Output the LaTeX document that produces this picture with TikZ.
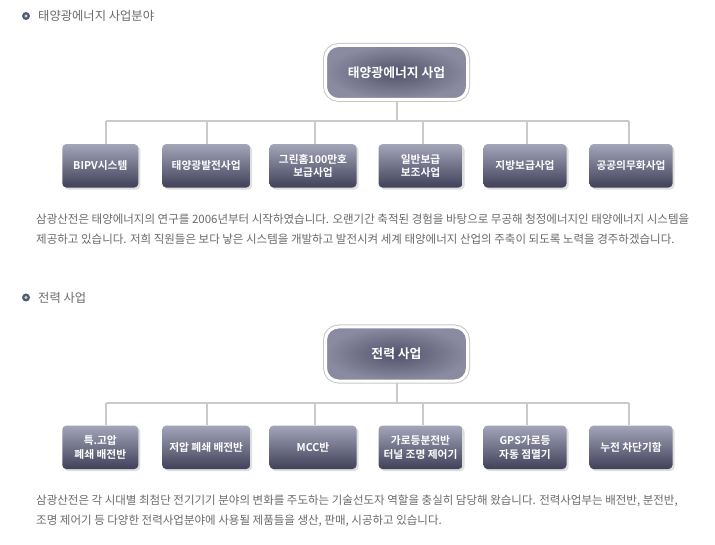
\documentclass[tikz,border=0pt]{standalone}
\usepackage{fontspec}
\setmainfont{Noto Sans CJK KR}[BoldFont={Noto Sans CJK KR Bold}]
\usetikzlibrary{positioning, shadows}

\definecolor{boxtop}{HTML}{A3A5B9}
\definecolor{boxbot}{HTML}{404159}
\definecolor{headin}{HTML}{52536B}
\definecolor{headout}{HTML}{8A8BA0}
\definecolor{linegray}{HTML}{CACACA}
\definecolor{textgray}{HTML}{6A6A6A}
\definecolor{bulletblue}{HTML}{4D5E74}

\begin{document}
\begin{tikzpicture}[x=1pt, y=-1pt,
    headbox/.style={rounded corners=13pt, draw=white, line width=3pt,
        preaction={draw=black!22, line width=5pt},
        inner color=headin, outer color=headout,
        minimum width=142, minimum height=54, inner sep=0,
        text=white, font=\bfseries\fontsize{12.8}{14}\selectfont},
    subbox/.style={rounded corners=4pt, top color=boxtop, bottom color=boxbot,
        drop shadow={shadow xshift=2pt, shadow yshift=-2pt, opacity=0.25},
        minimum height=43.5, inner sep=0, align=center,
        text=white, font=\bfseries\fontsize{10.7}{13.5}\selectfont},
    link/.style={draw=linegray, line width=2pt},
    title/.style={text=textgray, font=\fontsize{12.3}{14}\selectfont, inner sep=0},
    para/.style={text=textgray, font=\fontsize{11.5}{20}\selectfont,
        align=left, inner sep=0}]
    \useasboundingbox[fill=white] (0,0) rectangle (715,545);

    % Section 1: solar
    \fill[bulletblue] (26,16) circle (4);
    \fill[black!15] (26,16) circle (1.6);
    \node[title, anchor=west] (suntitle) at (38,16) {태양광에너지 사업분야};

    \node[headbox] (sun) at (396.5,72.5) {태양광에너지 사업};
    \coordinate (sunbar) at (0,121);
    \foreach \i/\cx/\w/\dx/\txt in {%
        1/100.3/76/5.7/{BIPV시스템},
        2/206.2/88/0.8/{태양광발전사업},
        3/313/87/2/{그린홈100만호\\보급사업},
        4/420.5/84/2.5/{일반보급\\보조사업},
        5/525/83/2/{지방보급사업},
        6/631/83/-2/{공공의무화사업}}{%
        \node[subbox, minimum width=\w] (sun\i) at (\cx,165.8) {\txt};
        \draw[link] ([xshift=\dx]sun\i.north) -- ([xshift=\dx]sun\i.north |- sunbar);
    }
    \draw[link] (sun.south) -- (sun.south |- sunbar);
    \draw[link] ([xshift=5.7]sun1.north |- sunbar) -- ([xshift=-2]sun6.north |- sunbar);

    \node[para, anchor=north west] (sunpara) at (36,214)
        {삼광산전은 태양에너지의 연구를 2006년부터 시작하였습니다. 오랜기간 축적된 경험을 바탕으로 무공해 청정에너지인 태양에너지 시스템을\\
         제공하고 있습니다. 저희 직원들은 보다 낳은 시스템을 개발하고 발전시켜 세계 태양에너지 산업의 주축이 되도록 노력을 경주하겠습니다.};

    % Section 2: power
    \fill[bulletblue] (26,297.5) circle (4);
    \fill[black!15] (26,297.5) circle (1.6);
    \node[title, anchor=west] (powtitle) at (38,297.5) {전력 사업};

    \node[headbox] (pow) at (396.5,354) {전력 사업};
    \coordinate (powbar) at (0,402.5);
    \foreach \i/\cx/\w/\dx/\txt in {%
        1/100.3/76/5.7/{특.고압\\폐쇄 배전반},
        2/206.2/88/0.8/{저압 폐쇄 배전반},
        3/313/87/2/{MCC반},
        4/420.5/84/2.5/{가로등분전반\\터널 조명 제어기},
        5/525/83/2/{GPS가로등\\자동 점멸기},
        6/631/83/-2/{누전 차단기함}}{%
        \node[subbox, minimum width=\w] (pow\i) at (\cx,447.3) {\txt};
        \draw[link] ([xshift=\dx]pow\i.north) -- ([xshift=\dx]pow\i.north |- powbar);
    }
    \draw[link] (pow.south) -- (pow.south |- powbar);
    \draw[link] ([xshift=5.7]pow1.north |- powbar) -- ([xshift=-2]pow6.north |- powbar);

    \node[para, anchor=north west] (powpara) at (36,494.5)
        {삼광산전은 각 시대별 최첨단 전기기기 분야의 변화를 주도하는 기술선도자 역할을 충실히 담당해 왔습니다. 전력사업부는 배전반, 분전반,\\
         조명 제어기 등 다양한 전력사업분야에 사용될 제품들을 생산, 판매, 시공하고 있습니다.};
\end{tikzpicture}
\end{document}
